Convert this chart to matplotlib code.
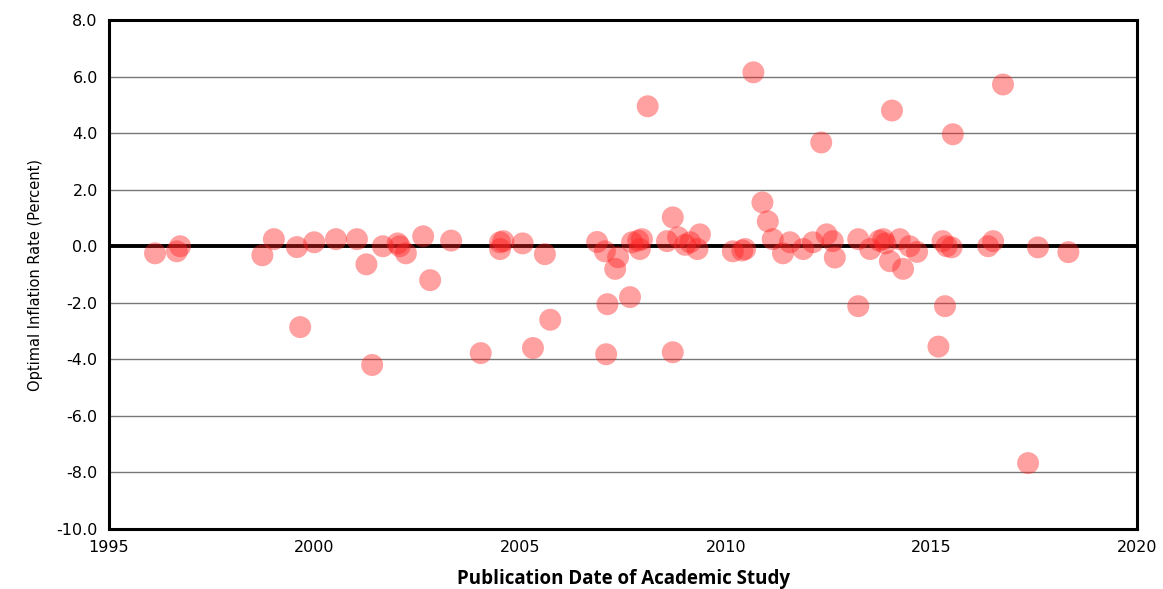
import matplotlib
matplotlib.use("Agg")
import matplotlib.pyplot as plt

years = [
    1996.12, 1996.65, 1996.73, 1998.73, 1999.01, 1999.57, 1999.65, 1999.99, 2000.52, 2001.03,
    2001.26, 2001.40, 2001.66, 2002.02, 2002.07, 2002.22, 2002.64, 2002.81, 2003.32, 2004.04,
    2004.51, 2004.51, 2004.59, 2005.06, 2005.31, 2005.60, 2005.73, 2006.87, 2007.06, 2007.09,
    2007.12, 2007.31, 2007.38, 2007.67, 2007.72, 2007.87, 2007.91, 2007.96, 2008.10, 2008.57,
    2008.71, 2008.71, 2008.84, 2009.01, 2009.13, 2009.31, 2009.37, 2010.17, 2010.40, 2010.47,
    2010.67, 2010.89, 2011.02, 2011.14, 2011.39, 2011.56, 2011.88, 2012.12, 2012.32, 2012.45,
    2012.60, 2012.65, 2013.22, 2013.22, 2013.51, 2013.73, 2013.83, 2013.88, 2013.99, 2014.04,
    2014.23, 2014.31, 2014.47, 2014.65, 2015.17, 2015.27, 2015.33, 2015.37, 2015.49, 2015.52,
    2016.38, 2016.50, 2016.74, 2017.35, 2017.59, 2018.33,
]
rates = [
    -0.25, -0.18, 0.00, -0.32, 0.25, -0.03, -2.86, 0.14, 0.25, 0.25,
    -0.64, -4.20, 0.00, 0.10, 0.00, -0.25, 0.35, -1.20, 0.20, -3.78,
    0.14, -0.10, 0.18, 0.10, -3.60, -0.28, -2.60, 0.15, -0.18, -3.82,
    -2.05, -0.80, -0.39, -1.80, 0.14, 0.20, -0.10, 0.25, 4.95, 0.18,
    1.02, -3.75, 0.32, 0.05, 0.14, -0.10, 0.42, -0.18, -0.15, -0.10,
    6.15, 1.55, 0.88, 0.25, -0.25, 0.14, -0.10, 0.14, 3.67, 0.42,
    0.18, -0.40, -2.12, 0.25, -0.10, 0.20, 0.25, 0.10, -0.53, 4.80,
    0.25, -0.80, 0.00, -0.20, -3.55, 0.18, -2.12, 0.00, -0.04, 3.96,
    0.00, 0.18, 5.72, -7.67, -0.04, -0.21,
]

x_ticks = [1995, 2000, 2005, 2010, 2015, 2020]
y_ticks = [-10, -8, -6, -4, -2, 0, 2, 4, 6, 8]

fig = plt.figure(figsize=(11.63, 5.89), dpi=100)
ax = fig.add_axes([0.0937, 0.1019, 0.8840, 0.8641])

for yv in y_ticks:
    if yv == 0:
        ax.axhline(yv, color="black", lw=2.8, zorder=1)
    else:
        ax.axhline(yv, color="#777777", lw=1.0, zorder=1)

ax.scatter(years, rates, s=250, color="#ff2020", alpha=0.42, edgecolors="none", zorder=2)

ax.set_xlim(1995, 2020)
ax.set_ylim(-10, 8)
ax.set_xticks(x_ticks)
ax.set_xticklabels([str(t) for t in x_ticks])
ax.set_yticks(y_ticks)
ax.set_yticklabels([f"{t:.1f}" for t in y_ticks])
ax.tick_params(length=0, labelsize=11.5, pad=8)
for lab in ax.get_xticklabels() + ax.get_yticklabels():
    lab.set_family("DejaVu Sans")

for sp in ax.spines.values():
    sp.set_linewidth(2.2)
    sp.set_color("black")

ax.set_ylabel("Optimal Inflation Rate (Percent)", fontsize=10.5, family="Liberation Sans Narrow", labelpad=10)
ax.set_xlabel("Publication Date of Academic Study", fontsize=13.5, fontweight="bold", family="Open Sans", labelpad=10)

fig.savefig("out.png", dpi=100)
